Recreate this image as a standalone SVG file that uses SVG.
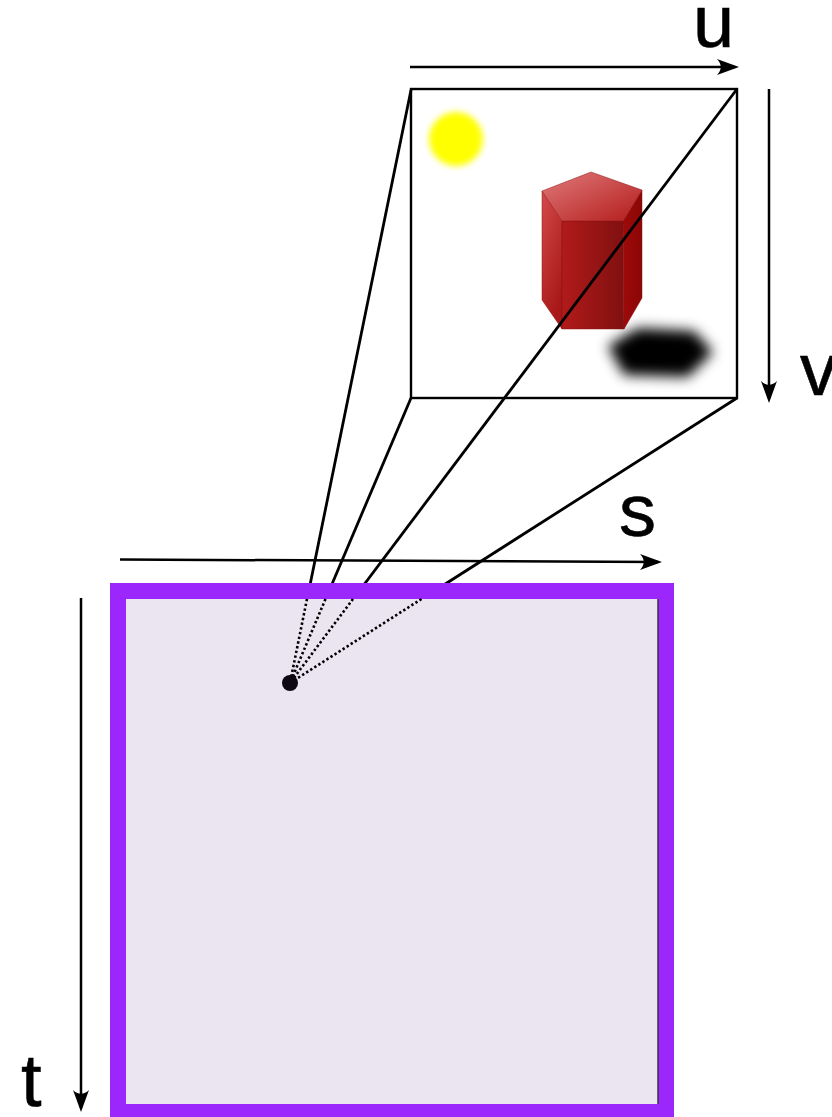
<svg xmlns="http://www.w3.org/2000/svg" width="832" height="1117" viewBox="0 0 832 1117">
  <style>
    .axis { stroke: #000; stroke-width: 2.5; fill: none; marker-end: url(#arrow); }
    .ray { stroke: #000; stroke-width: 2.8; fill: none; }
    .ray-dot { stroke: #000; stroke-width: 2.6; fill: none; stroke-dasharray: 2.4 2.4; }
    .label { font-family: "Liberation Sans", Arial, sans-serif; font-size: 74px; fill: #000; stroke: #000; stroke-width: 0.6; }
    .edge { stroke: #8a1010; stroke-width: 0.8; stroke-opacity: 0.6; }
  </style>
  <defs>
    <marker id="arrow" markerUnits="userSpaceOnUse" markerWidth="30" markerHeight="20" viewBox="-20 -10 26 20" refX="0" refY="0" orient="auto" overflow="visible">
      <path d="M 4 0 L -18 -8 C -13 -3 -13 3 -18 8 Z" fill="#000"/>
    </marker>
    <filter id="soft" x="-40%" y="-40%" width="180%" height="180%">
      <feGaussianBlur stdDeviation="3"/>
    </filter>
    <filter id="shadowBlur" x="-50%" y="-80%" width="200%" height="260%">
      <feGaussianBlur stdDeviation="6.5"/>
    </filter>
    <linearGradient id="topFace" x1="0" y1="0" x2="1" y2="1">
      <stop offset="0" stop-color="#e07a7a"/>
      <stop offset="1" stop-color="#b41c1c"/>
    </linearGradient>
    <linearGradient id="leftFace" x1="0" y1="0" x2="0.4" y2="1">
      <stop offset="0" stop-color="#d44a4a"/>
      <stop offset="1" stop-color="#a81818"/>
    </linearGradient>
    <linearGradient id="frontFace" x1="0" y1="0" x2="1" y2="0">
      <stop offset="0" stop-color="#b21a1a"/>
      <stop offset="1" stop-color="#801010"/>
    </linearGradient>
    <linearGradient id="rightFace" x1="0" y1="0" x2="1" y2="0">
      <stop offset="0" stop-color="#9e0a0a"/>
      <stop offset="1" stop-color="#8c0606"/>
    </linearGradient>
  </defs>

  <!-- image plane contents -->
  <g id="scene">
    <circle id="sun" cx="456" cy="139" r="27" fill="#ffff00" filter="url(#soft)"/>
    <polygon id="shadow" points="608,346 638,328 694,331 713,352 688,377 624,375" fill="#000" filter="url(#shadowBlur)"/>
    <g id="prism">
      <polygon points="542,191 562,221 562,329 542,300" fill="url(#leftFace)" class="edge"/>
      <polygon points="562,221 623,221 624,329 562,329" fill="url(#frontFace)" class="edge"/>
      <polygon points="623,221 642,190 642,298 624,329" fill="url(#rightFace)" class="edge"/>
      <polygon points="591,172 642,190 623,221 562,221 542,191" fill="url(#topFace)" class="edge"/>
    </g>
  </g>

  <!-- rays from the image plane corners to the eye point -->
  <g id="connectors">
    <line class="ray" x1="411" y1="90" x2="290" y2="683"/>
    <line class="ray" x1="411" y1="398" x2="290" y2="683"/>
    <line class="ray" x1="737" y1="89" x2="290" y2="683"/>
    <line class="ray" x1="737" y1="398" x2="290" y2="683"/>
  </g>

  <g id="image-plane">
    <rect x="411" y="89" width="326" height="309" fill="none" stroke="#000" stroke-width="2.4"/>
  </g>

  <!-- camera plane -->
  <g id="camera-plane">
    <rect x="118" y="591" width="548" height="521" fill="#ebe5f2" stroke="#9c27fd" stroke-width="16"/>
    <line x1="658" y1="599" x2="658" y2="1104" stroke="#3a3340" stroke-width="1.5"/>
  </g>

  <g id="rays-inside">
    <line class="ray-dot" x1="307" y1="599" x2="290" y2="683"/>
    <line class="ray-dot" x1="325.5" y1="599" x2="290" y2="683"/>
    <line class="ray-dot" x1="353" y1="599" x2="290" y2="683"/>
    <line class="ray-dot" x1="421.5" y1="599" x2="290" y2="683"/>
  </g>

  <g id="eye">
    <circle cx="290" cy="683" r="8" fill="#0d0714"/>
  </g>

  <!-- coordinate axes -->
  <g id="axes">
    <line class="axis" x1="410" y1="67" x2="735" y2="67"/>
    <line class="axis" x1="769" y1="89" x2="769" y2="399"/>
    <line class="axis" x1="120" y1="559.5" x2="658" y2="562"/>
    <line class="axis" x1="81" y1="598" x2="81" y2="1108"/>
  </g>

  <g id="labels">
    <text class="label" x="693" y="47">u</text>
    <text class="label" x="800" y="395">v</text>
    <text class="label" x="619" y="536">s</text>
    <text class="label" x="21" y="1106">t</text>
  </g>
</svg>
